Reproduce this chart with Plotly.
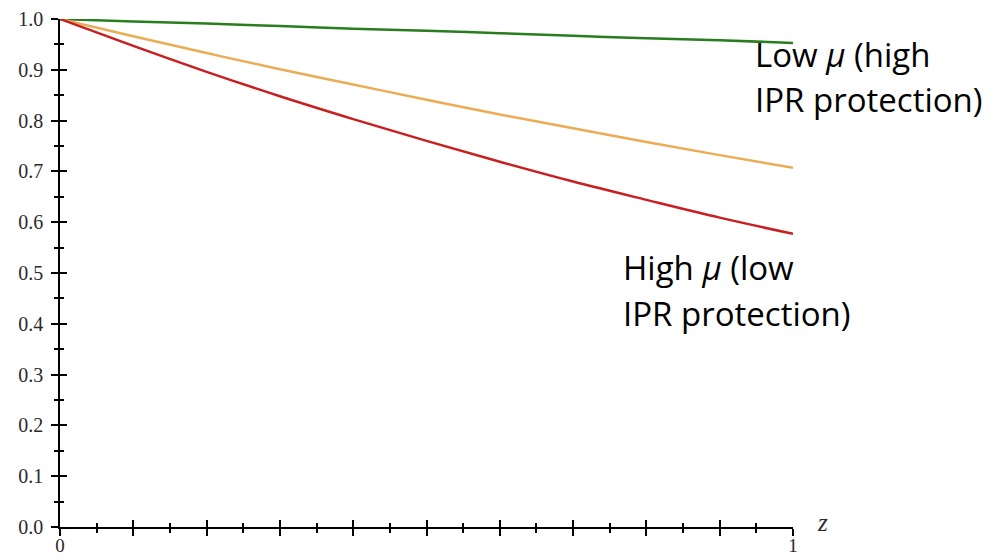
import plotly.graph_objects as go

z = [0.0, 0.1, 0.2, 0.3, 0.4, 0.5, 0.6, 0.7, 0.8, 0.9, 1.0]
low_mu = [1.0, 0.995, 0.991, 0.986, 0.981, 0.977, 0.972, 0.967, 0.962, 0.958, 0.953]
mid_mu = [1.0, 0.966, 0.933, 0.901, 0.871, 0.841, 0.812, 0.785, 0.758, 0.732, 0.707]
high_mu = [1.0, 0.947, 0.896, 0.848, 0.803, 0.760, 0.719, 0.680, 0.644, 0.609, 0.577]

x_tickvals = [0.0, 0.1, 0.2, 0.3, 0.4, 0.5, 0.6, 0.7, 0.8, 0.9, 1.0]
x_ticktext = ["0", "", "", "", "", "", "", "", "", "", "1"]
y_tickvals = [0.0, 0.1, 0.2, 0.3, 0.4, 0.5, 0.6, 0.7, 0.8, 0.9, 1.0]
y_ticktext = ["0.0", "0.1", "0.2", "0.3", "0.4", "0.5", "0.6", "0.7", "0.8", "0.9", "1.0"]

fig = go.Figure()
for vals, col in [(low_mu, "rgb(40,125,30)"), (mid_mu, "rgb(235,172,85)"), (high_mu, "rgb(200,32,32)")]:
    fig.add_trace(go.Scatter(x=z, y=vals, mode="lines", line=dict(color=col, width=2.5, shape="spline"),
                             cliponaxis=False, showlegend=False, hoverinfo="skip"))
# invisible trace for the overlay axes (inside ticks)
fig.add_trace(go.Scatter(x=[0, 1], y=[0, 1], xaxis="x2", yaxis="y2", mode="markers",
                         marker=dict(opacity=0), showlegend=False, hoverinfo="skip"))

tickfont = dict(family="Liberation Serif", size=20, color="#2a2a2a")
common = dict(range=[0, 1], showgrid=False, zeroline=False, showline=True, linecolor="black",
              linewidth=1.5, tickcolor="black", tickwidth=1.5, ticklen=7, automargin=False)
minor_out = dict(ticks="outside", ticklen=4, dtick=0.05, tick0=0, tickcolor="black", tickwidth=1.5, showgrid=False)
minor_in = dict(ticks="inside", ticklen=4, dtick=0.05, tick0=0, tickcolor="black", tickwidth=1.5, showgrid=False)
fig.update_layout(
    width=996, height=552,
    margin=dict(l=52, r=211, t=11, b=33),
    plot_bgcolor="white", paper_bgcolor="white",
    xaxis=dict(**common, ticks="outside", tickvals=x_tickvals, ticktext=x_ticktext,
               tickfont=dict(family="Liberation Serif", size=19, color="#2a2a2a"),
               ticklabelstandoff=-7, minor=minor_out),
    yaxis=dict(**common, ticks="outside", tickvals=y_tickvals, ticktext=y_ticktext, tickfont=tickfont,
               ticklabelstandoff=4, minor=minor_out),
    xaxis2=dict(**common, overlaying="x", anchor="y", side="bottom", ticks="inside", tickvals=x_tickvals,
                showticklabels=False, minor=minor_in),
    yaxis2=dict(**common, overlaying="y", anchor="x", side="left", ticks="inside", tickvals=y_tickvals,
                showticklabels=False, minor=minor_in),
)

lblfont = dict(family="Open Sans", size=33, color="black")
labels = [
    (0.945, 0.931, "Low <i>μ</i> (high"),
    (0.945, 0.841, "IPR protection)"),
    (0.765, 0.511, "High <i>μ</i> (low"),
    (0.765, 0.421, "IPR protection)"),
]
for lx, ly, txt in labels:
    fig.add_annotation(x=lx, y=ly, xref="x", yref="y", xanchor="left", yanchor="middle", showarrow=False,
                       align="left", text=txt, font=lblfont)
fig.add_annotation(x=1.03, y=0.008, xref="paper", yref="y", xanchor="left", yanchor="middle", showarrow=False,
                   text="<i>z</i>", font=dict(family="Liberation Serif", size=25, color="#2a2a2a"))

fig.write_html("out.html")
